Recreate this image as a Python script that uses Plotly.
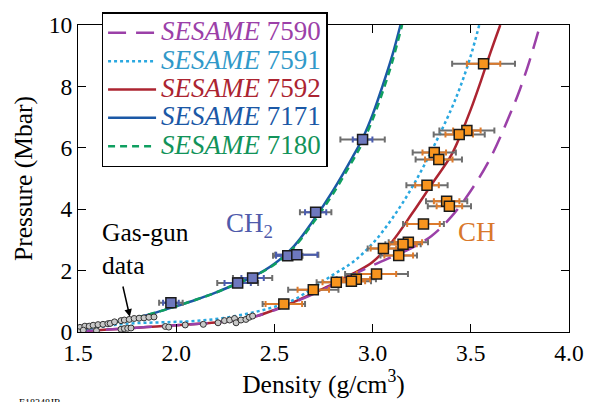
import plotly.graph_objects as go

# ---- SESAME Hugoniot curves (density g/cm3, pressure Mbar) ----
rho_7171 = [1.50, 1.60, 1.70, 1.80, 1.90, 2.00, 2.10, 2.20, 2.30, 2.40, 2.50, 2.60, 2.70, 2.80, 2.90, 2.95, 3.00, 3.05, 3.10, 3.142]
p_7171 = [0.04, 0.20, 0.33, 0.47, 0.64, 0.84, 1.05, 1.28, 1.55, 1.83, 2.22, 2.80, 3.65, 4.62, 5.72, 6.32, 7.08, 8.00, 9.00, 10.0]

rho_7180 = [1.50, 1.60, 1.70, 1.80, 1.90, 2.00, 2.10, 2.20, 2.30, 2.40, 2.50, 2.60, 2.70, 2.80, 2.90, 2.95, 3.00, 3.05, 3.10, 3.15]
p_7180 = [0.04, 0.20, 0.33, 0.47, 0.64, 0.84, 1.05, 1.28, 1.55, 1.83, 2.20, 2.76, 3.58, 4.52, 5.60, 6.18, 6.92, 7.80, 8.80, 10.0]

rho_7592 = [1.50, 1.60, 1.70, 1.80, 1.90, 2.00, 2.10, 2.20, 2.30, 2.40, 2.50, 2.60, 2.70, 2.80, 2.90, 3.00, 3.10, 3.20, 3.30, 3.40, 3.45, 3.50, 3.55, 3.60, 3.65]
p_7592 = [0.02, 0.06, 0.10, 0.14, 0.18, 0.22, 0.26, 0.31, 0.38, 0.50, 0.72, 0.98, 1.27, 1.57, 1.90, 2.28, 2.95, 3.85, 4.80, 5.75, 6.45, 7.25, 8.15, 9.10, 10.0]

rho_7591 = [1.50, 1.60, 1.70, 1.80, 1.90, 2.00, 2.10, 2.20, 2.30, 2.40, 2.50, 2.60, 2.70, 2.80, 2.90, 3.00, 3.10, 3.20, 3.30, 3.40, 3.45, 3.50, 3.543]
p_7591 = [0.05, 0.15, 0.24, 0.29, 0.31, 0.33, 0.36, 0.42, 0.52, 0.65, 0.82, 1.05, 1.45, 1.87, 2.28, 2.88, 3.70, 4.70, 5.90, 7.25, 8.05, 9.00, 10.0]

rho_7590 = [1.50, 1.60, 1.70, 1.80, 1.90, 2.00, 2.10, 2.20, 2.30, 2.40, 2.50, 2.60, 2.70, 2.80, 2.90, 3.00, 3.10, 3.20, 3.30, 3.40, 3.50, 3.60, 3.70, 3.75, 3.80, 3.853]
p_7590 = [0.02, 0.06, 0.10, 0.14, 0.18, 0.22, 0.26, 0.31, 0.38, 0.50, 0.71, 0.96, 1.24, 1.54, 1.86, 2.17, 2.45, 2.74, 3.13, 3.75, 4.60, 5.67, 7.10, 7.90, 8.85, 10.0]

# ---- Laser-driven shock data: CH2 ----
ch2_rho = [1.973, 2.313, 2.389, 2.568, 2.614, 2.710, 2.949]
ch2_p = [0.95, 1.60, 1.76, 2.48, 2.52, 3.90, 6.27]
ch2_err_total = [0.06, 0.104, 0.10, 0.075, 0.11, 0.08, 0.113]
ch2_err_stat = [0.04, 0.067, 0.057, 0.06, 0.105, 0.054, 0.05]

# ---- Laser-driven shock data: CH ----
ch_rho = [3.565, 3.480, 3.441, 3.314, 3.337, 3.277, 3.377, 3.391, 3.259, 3.182,
          3.155, 3.055, 3.133, 3.020, 2.917, 2.892, 2.815, 2.698, 2.548]
ch_p = [8.74, 6.56, 6.43, 5.85, 5.62, 4.78, 4.26, 4.10, 3.52, 2.92,
        2.86, 2.72, 2.49, 1.89, 1.72, 1.65, 1.62, 1.38, 0.91]
ch_err_total = [0.16, 0.14, 0.13, 0.11, 0.118, 0.105, 0.105, 0.11, 0.104, 0.10,
                0.09, 0.08, 0.093, 0.16, 0.10, 0.10, 0.10, 0.128, 0.108]
ch_err_stat = [0.085, 0.07, 0.07, 0.06, 0.07, 0.06, 0.065, 0.065, 0.083, 0.07,
               0.07, 0.065, 0.073, 0.10, 0.07, 0.07, 0.07, 0.08, 0.093]

# ---- Gas-gun data ----
gg_ch2_rho = [1.510, 1.535, 1.557, 1.577, 1.602, 1.627, 1.652, 1.664, 1.686, 1.719,
              1.736, 1.761, 1.786, 1.811, 1.836, 1.861, 1.887]
gg_ch2_p = [0.15, 0.19, 0.19, 0.22, 0.24, 0.25, 0.27, 0.28, 0.33, 0.37,
            0.39, 0.41, 0.44, 0.45, 0.46, 0.48, 0.49]
gg_ch_rho = [1.500, 1.527, 1.594, 1.719, 1.736, 1.753, 1.770, 1.945, 1.962, 2.046,
             2.138, 2.213, 2.246, 2.272, 2.297, 2.305, 2.330, 2.355, 2.372, 2.389]
gg_ch_p = [0.01, 0.06, 0.04, 0.09, 0.11, 0.12, 0.13, 0.18, 0.16, 0.23,
           0.25, 0.30, 0.37, 0.39, 0.44, 0.30, 0.39, 0.41, 0.48, 0.52]

SERIF = "'Liberation Serif', 'Times New Roman', serif"
C7590, C7591, C7592, C7171, C7180 = "#9b40a8", "#2aa8e0", "#ac2431", "#1b58a6", "#0f9f60"
LEG7590, LEG7591, LEG7592, LEG7171, LEG7180 = "#9b40a8", "#3199c9", "#ac2431", "#1b58a6", "#12935a"


def leg(color, num):
    return (f'<span style="color:{color};font-size:27px">'
            f'<i>SESAME</i> {num}</span>')


fig = go.Figure()

# model curves
fig.add_trace(go.Scatter(x=rho_7592, y=p_7592, mode="lines", line=dict(color=C7592, width=2.5, shape="spline"),
                         name=leg(LEG7592, 7592), legendrank=3))
fig.add_trace(go.Scatter(x=rho_7590, y=p_7590, mode="lines",
                         line=dict(color=C7590, width=2.5, dash="18px,10px", shape="spline"),
                         name=leg(LEG7590, 7590), legendrank=1))
fig.add_trace(go.Scatter(x=rho_7591, y=p_7591, mode="lines",
                         line=dict(color=C7591, width=2.5, dash="3px,3px", shape="spline"),
                         name=leg(LEG7591, 7591), legendrank=2))
fig.add_trace(go.Scatter(x=rho_7171, y=p_7171, mode="lines", line=dict(color=C7171, width=2.5, shape="spline"),
                         name=leg(LEG7171, 7171), legendrank=4))
fig.add_trace(go.Scatter(x=rho_7180, y=p_7180, mode="lines",
                         line=dict(color=C7180, width=2.5, dash="7px,5px", shape="spline"),
                         name=leg(LEG7180, 7180), legendrank=5))

# gas-gun points
for gx, gy in ((gg_ch2_rho, gg_ch2_p), (gg_ch_rho, gg_ch_p)):
    fig.add_trace(go.Scatter(x=gx, y=gy, mode="markers", showlegend=False,
                             marker=dict(symbol="circle", size=6, color="#c8c8c8",
                                         line=dict(color="#333333", width=1))))

# shock data: total (gray) error bars underneath, then colored bars and squares
for rx, py, et, es, ecol, fcol in (
        (ch2_rho, ch2_p, ch2_err_total, ch2_err_stat, "#4a5cae", "#6e78be"),
        (ch_rho, ch_p, ch_err_total, ch_err_stat, "#dc7a2c", "#f7941e")):
    fig.add_trace(go.Scatter(x=rx, y=py, mode="markers", showlegend=False,
                             marker=dict(size=1, color="rgba(0,0,0,0)"),
                             error_x=dict(type="data", array=et, color="#6e6e6e", thickness=2, width=3)))
    fig.add_trace(go.Scatter(x=rx, y=py, mode="markers", showlegend=False,
                             marker=dict(symbol="square", size=10, color=fcol,
                                         line=dict(color="#1a1a1a", width=1.5)),
                             error_x=dict(type="data", array=es, color=ecol, thickness=2, width=3)))

axis_common = dict(showline=True, linecolor="black", linewidth=1.2, mirror="ticks",
                   ticks="inside", ticklen=8, tickwidth=1.2, tickcolor="black",
                   showgrid=False, zeroline=False,
                   tickfont=dict(family=SERIF, size=23.5, color="black"))

fig.update_xaxes(range=[1.5, 4.0], dtick=0.5, tick0=1.5, tickformat=".1f",
                 title=dict(text="Density (g/cm<sup>3</sup>)", standoff=5,
                            font=dict(family=SERIF, size=25.5, color="black")),
                 **axis_common)
fig.update_yaxes(range=[0, 10], dtick=2, tick0=0,
                 title=dict(text="Pressure (Mbar)", standoff=8,
                            font=dict(family=SERIF, size=25.5, color="black")),
                 **axis_common)

fig.add_annotation(x=2.373, y=3.47, text="CH<sub>2</sub>", showarrow=False,
                   font=dict(family=SERIF, size=27, color="#4f5bab"))
fig.add_annotation(x=3.533, y=3.25, text="CH", showarrow=False,
                   font=dict(family=SERIF, size=27, color="#d9782b"))
fig.add_annotation(x=1.61, y=2.72, text="Gas-gun<br>data", showarrow=False, align="left",
                   xanchor="left", yanchor="middle",
                   font=dict(family=SERIF, size=25.5, color="black"))
fig.add_annotation(x=1.764, y=0.50, ax=1.727, ay=1.53, axref="x", ayref="y", text="",
                   showarrow=True, arrowhead=2, arrowsize=1, arrowwidth=1.5, arrowcolor="black")
fig.add_annotation(x=-0.125, y=-0.205, xref="paper", yref="paper", text="E18348JR",
                   showarrow=False, xanchor="left", yanchor="top",
                   font=dict(family=SERIF, size=10, color="black"))

fig.update_layout(
    width=596, height=402,
    margin=dict(l=78, r=20, t=24, b=70),
    paper_bgcolor="white", plot_bgcolor="white",
    font=dict(family=SERIF),
    legend=dict(x=0.048, y=1.042, xanchor="left", yanchor="top",
                bgcolor="white", bordercolor="black", borderwidth=1.5,
                font=dict(family=SERIF, size=19.5), tracegroupgap=0,
                itemwidth=48),
    showlegend=True,
)

fig.write_html("out.html")
